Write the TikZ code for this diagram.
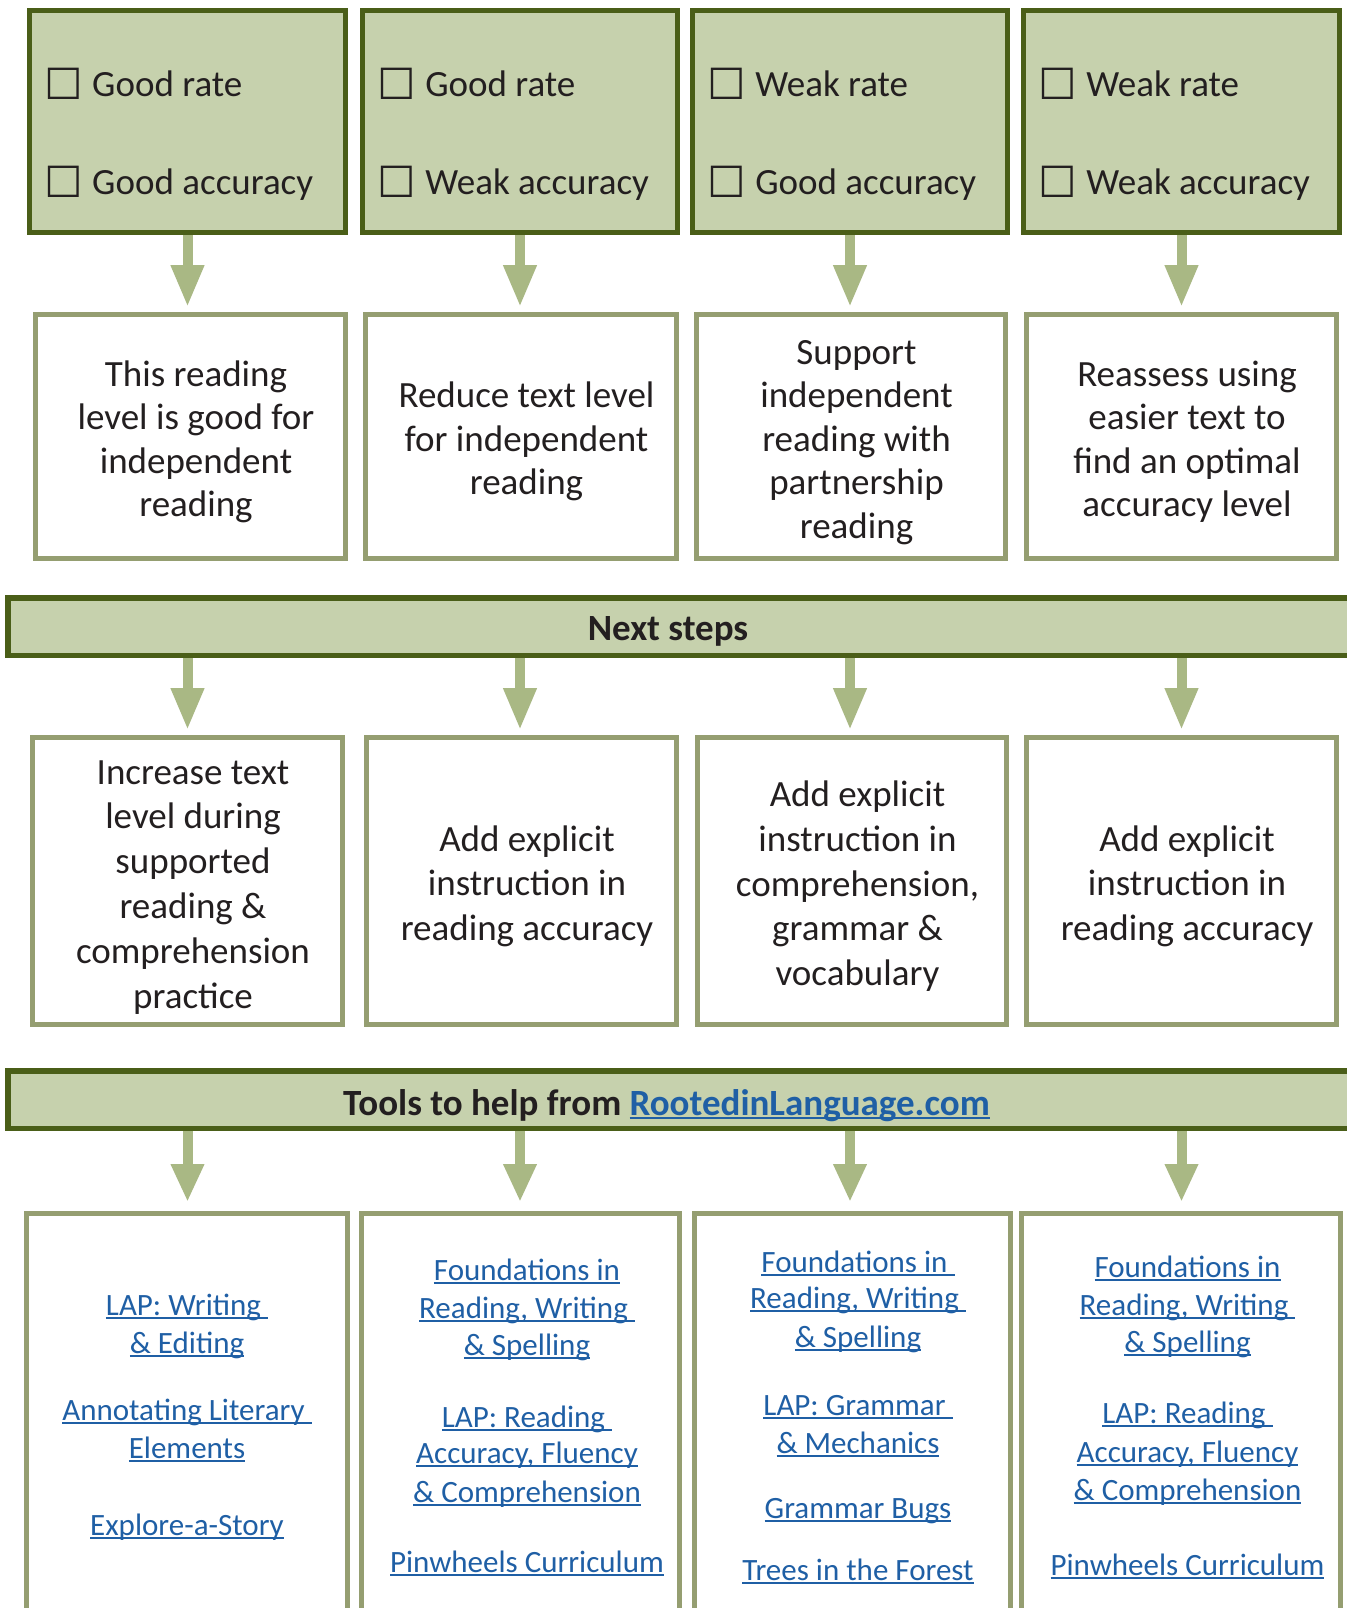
\documentclass[tikz,border=0pt]{standalone}
\usepackage{fontspec}
\setmainfont{Carlito}
\newfontfamily\cbfont{DejaVu Sans}
\usetikzlibrary{arrows.meta}
\definecolor{dkgreen}{HTML}{4A5E18}
\definecolor{lightfill}{HTML}{C6D1AD}
\definecolor{arrowgreen}{HTML}{A9B884}
\definecolor{boxline}{HTML}{959E71}
\definecolor{linkblue}{HTML}{1F5FA5}
\definecolor{ink}{HTML}{231F20}
\newcommand\ulnk[1]{\setbox0\hbox{#1}\rlap{\rule[-3.5pt]{\wd0}{2pt}}\box0}
\newcommand\cbx{\raisebox{-2.5pt}{\cbfont\fontsize{43}{43}\selectfont ☐}\hspace{9.5pt}}
\begin{document}
\begin{tikzpicture}[x=1pt,y=-1pt,
  topbox/.style={draw=dkgreen, fill=lightfill, line width=5pt, inner sep=0pt, minimum height=222pt},
  bar/.style={draw=dkgreen, fill=lightfill, line width=5.5pt, inner sep=0pt, minimum width=1352pt, minimum height=57.5pt},
  plainbox/.style={draw=boxline, fill=white, line width=5pt, inner sep=0pt},
  conn/.style={draw=arrowgreen, line width=10pt, -{Triangle[width=31pt,length=42pt]}},
  connb/.style={draw=arrowgreen, line width=10pt, -{Triangle[width=31pt,length=38pt]}},
  main/.style={font=\fontsize{37}{44}\selectfont, text=ink, inner sep=0pt, anchor=base},
  chk/.style={font=\fontsize{37}{44}\selectfont, text=ink, inner sep=0pt, anchor=base west},
  lnk/.style={font=\fontsize{31}{38}\selectfont, text=linkblue, inner sep=0pt, anchor=base},
  bartxt/.style={font=\fontsize{37}{44}\selectfont\bfseries, text=ink, inner sep=0pt, anchor=base}]
\useasboundingbox[fill=white] (0,0) rectangle (1346,1608);

% top row
\node[topbox, minimum width=316pt] (t1) at (187.5,121.5) {};
\node[topbox, minimum width=315pt] (t2) at (520,121.5) {};
\node[topbox, minimum width=315pt] (t3) at (850,121.5) {};
\node[topbox, minimum width=316pt] (t4) at (1181.5,121.5) {};
\node[chk] (t1a) at (44,97) {\cbx Good rate};
\node[chk] (t1b) at (44,195) {\cbx Good accuracy};
\node[chk] (t2a) at (377,97) {\cbx Good rate};
\node[chk] (t2b) at (377,195) {\cbx Weak accuracy};
\node[chk] (t3a) at (707,97) {\cbx Weak rate};
\node[chk] (t3b) at (707,195) {\cbx Good accuracy};
\node[chk] (t4a) at (1038,97) {\cbx Weak rate};
\node[chk] (t4b) at (1038,195) {\cbx Weak accuracy};

% second row
\node[plainbox, minimum width=310pt, minimum height=244pt] (r1) at (190.5,436.5) {};
\node[plainbox, minimum width=311pt, minimum height=244pt] (r2) at (521,436.5) {};
\node[plainbox, minimum width=309pt, minimum height=244pt] (r3) at (851,436.5) {};
\node[plainbox, minimum width=310pt, minimum height=244pt] (r4) at (1181.5,436.5) {};
\foreach \s [count=\i] in {This reading, level is good for, independent, reading}
  \node[main] (r1t\i) at (196,{386+43.5*(\i-1)}) {\s};
\foreach \s [count=\i] in {Reduce text level, for independent, reading}
  \node[main] (r2t\i) at (526.5,{407.5+43.5*(\i-1)}) {\s};
\foreach \s [count=\i] in {Support, independent, reading with, partnership, reading}
  \node[main] (r3t\i) at (856.5,{364+43.5*(\i-1)}) {\s};
\foreach \s [count=\i] in {Reassess using, easier text to, find an optimal, accuracy level}
  \node[main] (r4t\i) at (1187,{386+43.5*(\i-1)}) {\s};

% next steps bar
\node[bar] (nb) at (684,626.5) {};
\node[bartxt] (nbt) at (668,640) {Next steps};

% third row
\node[plainbox, minimum width=310pt, minimum height=287pt] (s1) at (187.5,881) {};
\node[plainbox, minimum width=310pt, minimum height=287pt] (s2) at (521.5,881) {};
\node[plainbox, minimum width=309pt, minimum height=287pt] (s3) at (852,881) {};
\node[plainbox, minimum width=310pt, minimum height=287pt] (s4) at (1181.5,881) {};
\foreach \s [count=\i] in {Increase text, level during, supported, reading \&, comprehension, practice}
  \node[main] (s1t\i) at (193,{784+44.8*(\i-1)}) {\s};
\foreach \s [count=\i] in {Add explicit, instruction in, reading accuracy}
  \node[main] (s2t\i) at (527,{851+44.8*(\i-1)}) {\s};
\foreach \s [count=\i] in {Add explicit, instruction in, {comprehension,}, grammar \&, vocabulary}
  \node[main] (s3t\i) at (857.5,{806.5+44.8*(\i-1)}) {\s};
\foreach \s [count=\i] in {Add explicit, instruction in, reading accuracy}
  \node[main] (s4t\i) at (1187,{851+44.8*(\i-1)}) {\s};

% tools bar
\node[bar] (tb) at (684,1099.5) {};
\node[bartxt] (tbt) at (666.5,1115) {Tools to help from \textcolor{linkblue}{\ulnk{RootedinLanguage.com}}};

% fourth row
\node[plainbox, minimum width=321pt, minimum height=484pt] (u1) at (187,1455.5) {};
\node[plainbox, minimum width=318pt, minimum height=484pt] (u2) at (520.5,1455.5) {};
\node[plainbox, minimum width=316pt, minimum height=484pt] (u3) at (852.5,1455.5) {};
\node[plainbox, minimum width=319pt, minimum height=484pt] (u4) at (1181,1455.5) {};
\foreach \yy/\s [count=\i] in {1315/{LAP: Writing\ }, 1353/{\& Editing}, 1420/{Annotating Literary\ }, 1458/{Elements}, 1535/{Explore-a-Story}}
  \node[lnk] (u1t\i) at (187,\yy) {\ulnk{\s}};
\foreach \yy/\s [count=\i] in {1280/{Foundations in}, 1318/{Reading, Writing\ }, 1355/{\& Spelling}, 1427/{LAP: Reading\ }, 1463/{Accuracy, Fluency}, 1502/{\& Comprehension}, 1572/{Pinwheels Curriculum}}
  \node[lnk] (u2t\i) at (527,\yy) {\ulnk{\s}};
\foreach \yy/\s [count=\i] in {1272/{Foundations in\ }, 1308/{Reading, Writing\ }, 1347/{\& Spelling}, 1415/{LAP: Grammar\ }, 1453/{\& Mechanics}, 1518/{Grammar Bugs}, 1580/{Trees in the Forest}}
  \node[lnk] (u3t\i) at (858,\yy) {\ulnk{\s}};
\foreach \yy/\s [count=\i] in {1277/{Foundations in}, 1315/{Reading, Writing\ }, 1352/{\& Spelling}, 1423/{LAP: Reading\ }, 1462/{Accuracy, Fluency}, 1500/{\& Comprehension}, 1575/{Pinwheels Curriculum}}
  \node[lnk] (u4t\i) at (1187.5,\yy) {\ulnk{\s}};

% arrows
\foreach \a/\b in {t1/r1, t2/r2, t3/r3, t4/r4}
  \draw[conn, shorten >=5pt] (\a.south) -- (\a.south |- \b.north);
\foreach \a/\b in {t1/s1, t2/s2, t3/s3, t4/s4}
  \draw[conn, shorten >=5pt] (\a.south |- nb.south) -- (\a.south |- \b.north);
\foreach \a/\b in {t1/u1, t2/u2, t3/u3, t4/u4}
  \draw[connb, shorten >=9pt] (\a.south |- tb.south) -- (\a.south |- \b.north);
\end{tikzpicture}
\end{document}
